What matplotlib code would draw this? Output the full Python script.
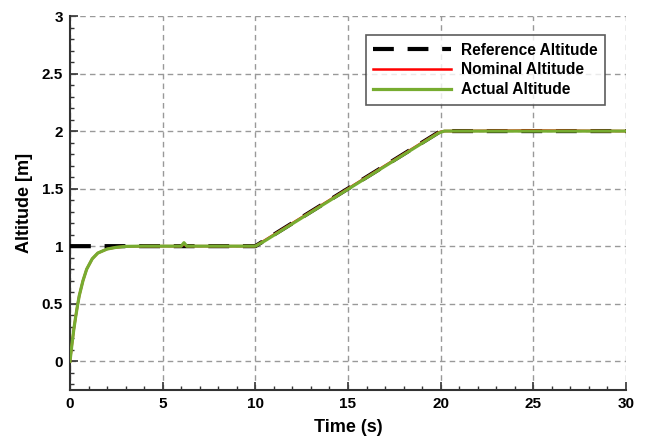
import matplotlib
matplotlib.use("Agg")
import matplotlib.pyplot as plt
from matplotlib.ticker import MultipleLocator

plt.rcParams['font.family'] = ['Liberation Sans', 'DejaVu Sans']
plt.rcParams['font.weight'] = 'bold'

# Reference altitude
t_ref = [0, 10, 20, 30]
alt_ref = [1.0, 1.0, 2.0, 2.0]

# Nominal altitude
t_nom = [0, 0.1, 0.2, 0.3, 0.4, 0.5, 0.7, 0.9, 1.2, 1.5, 2.0, 2.5, 3.0, 4.0, 5.0,
         6.0, 6.15, 6.3, 6.5, 7.0, 8.0, 9.0, 10.0, 10.5, 15.0, 19.9, 20.2, 25.0, 30.0]
alt_nom = [0, 0.14, 0.27, 0.38, 0.48, 0.57, 0.70, 0.80, 0.89, 0.94, 0.975, 0.99, 0.998, 1.0, 1.0,
           1.0, 1.015, 1.0, 1.0, 1.0, 1.0, 1.0, 1.0, 1.05, 1.5, 1.99, 2.0, 2.005, 2.0]

# Actual altitude
t_act = [0, 0.1, 0.2, 0.3, 0.4, 0.5, 0.7, 0.9, 1.2, 1.5, 2.0, 2.5, 3.0, 4.0, 5.0,
         6.0, 6.15, 6.3, 6.5, 7.0, 8.0, 9.0, 10.0, 10.5, 15.0, 19.9, 20.2, 25.0, 30.0]
alt_act = [0, 0.14, 0.27, 0.38, 0.48, 0.57, 0.70, 0.80, 0.89, 0.94, 0.975, 0.99, 0.998, 1.0, 1.0,
           1.0, 1.03, 1.0, 1.0, 1.0, 1.0, 1.0, 1.0, 1.045, 1.495, 1.985, 2.0, 2.0, 2.0]

fig = plt.figure(figsize=(6.46, 4.42), dpi=100)
ax = fig.add_axes([70/646, 1 - 390/442, 556/646, 374/442])

ax.plot(t_ref, alt_ref, color='black', lw=3, dashes=(5, 3.3), label='Reference Altitude', zorder=3)
ax.plot(t_nom, alt_nom, color='#ff0000', lw=1.8, label='Nominal Altitude', zorder=4)
ax.plot(t_act, alt_act, color='#77ac30', lw=2.3, label='Actual Altitude', zorder=5)

ax.set_xlim(0, 30)
ax.set_ylim(-0.25, 3)
ax.set_xticks([0, 5, 10, 15, 20, 25, 30])
ax.set_yticks([0, 0.5, 1, 1.5, 2, 2.5, 3])
ax.set_yticklabels(['0', '0.5', '1', '1.5', '2', '2.5', '3'])
ax.xaxis.set_minor_locator(MultipleLocator(1))
ax.yaxis.set_minor_locator(MultipleLocator(0.1))
ax.tick_params(which='major', direction='in', length=6, width=1.2, labelsize=11, color='#333333', pad=5)
ax.tick_params(which='minor', direction='in', length=3, width=1, color='#333333')
for lab in ax.get_xticklabels() + ax.get_yticklabels():
    lab.set_fontweight('bold')

ax.grid(True, which='major', color='#999999', linestyle=(0, (4, 3)), lw=1)
ax.spines['top'].set_visible(False)
ax.spines['right'].set_visible(False)
for s in ('left', 'bottom'):
    ax.spines[s].set_color('#333333')
    ax.spines[s].set_linewidth(1.5)

ax.set_xlabel('Time (s)', fontsize=13, fontweight='bold', labelpad=6)
ax.set_ylabel('Altitude [m]', fontsize=13, fontweight='bold', labelpad=6)

leg = ax.legend(loc='upper right', bbox_to_anchor=(605/646, 1 - 35/442), bbox_transform=fig.transFigure,
                borderaxespad=0,
                prop={'weight': 'bold', 'size': 11.2}, frameon=True, fancybox=False,
                edgecolor='#333333', handlelength=5, handletextpad=0.6, borderpad=0.5, labelspacing=0.3)
leg.get_frame().set_linewidth(1.2)

fig.savefig('out.png', dpi=100)
